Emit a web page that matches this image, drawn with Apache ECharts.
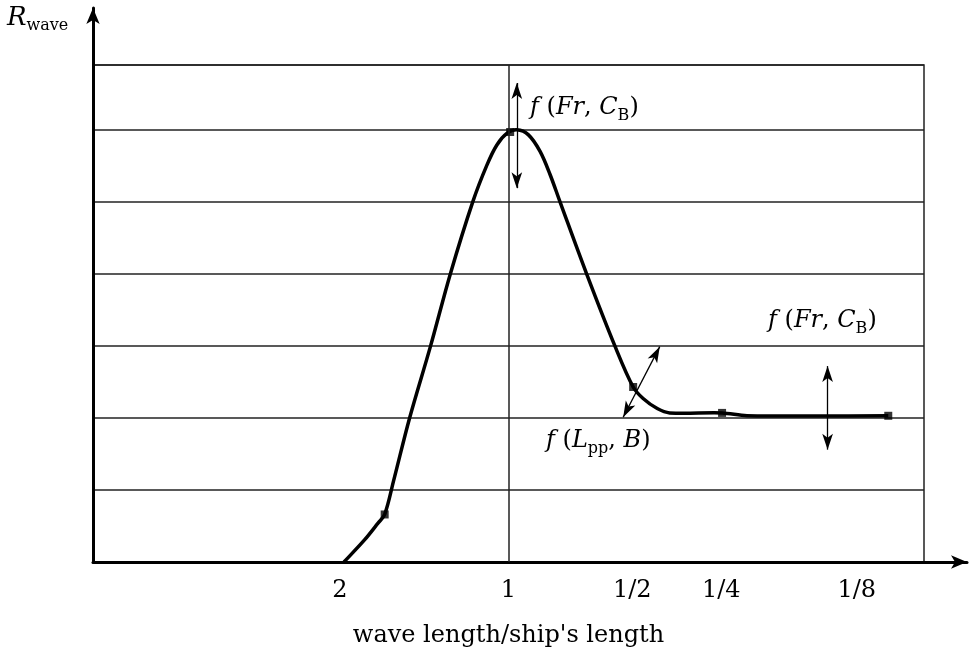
<!DOCTYPE html>
<html>
<head>
<meta charset="utf-8">
<script src="https://cdn.jsdelivr.net/npm/echarts@6/dist/echarts.min.js"></script>
<style>
  html, body { margin: 0; padding: 0; background: #fff; }
  #chart { width: 969px; height: 648px; }
</style>
</head>
<body>
<div id="chart"></div>
<script>
// x: schematic units across the plot (0..10), y: grid rows (0..6.9)
const tickPos = [2.97, 5.0, 6.49, 7.56, 9.19];
const tickText = ['2', '1', '1/2', '1/4', '1/8'];

const curveX = [3.02, 3.27, 3.43, 3.51, 3.62, 3.81, 4.06, 4.30, 4.57, 4.74, 4.86, 4.98, 5.10, 5.24, 5.38, 5.50, 5.62, 5.94, 6.28, 6.50, 6.62, 6.79, 6.94, 7.57, 7.87, 9.57];
const curveY = [0.00, 0.31, 0.54, 0.66, 1.14, 2.00, 2.99, 4.00, 5.00, 5.51, 5.79, 5.95, 6.00, 5.93, 5.70, 5.38, 5.00, 4.00, 3.00, 2.43, 2.27, 2.13, 2.07, 2.07, 2.03, 2.03];

const markX = [3.51, 5.02, 6.50, 7.57, 9.57];
const markY = [0.66, 5.97, 2.43, 2.07, 2.03];

// double-headed arrows: [x1, y1, x2, y2]
const arrows = [
  [5.10, 6.65, 5.10, 5.19],
  [6.82, 2.99, 6.38, 2.01],
  [8.84, 2.72, 8.84, 1.56]
];

const font = 'DejaVu Serif';
const chart = echarts.init(document.getElementById('chart'));

const curve = curveX.map((x, i) => [x, curveY[i]]);
const marks = markX.map((x, i) => [x, markY[i]]);

// smooth path through the points (tangent from neighbours, handle length = 1/3 of segment)
function smoothPath(pts) {
  const n = pts.length;
  const tan = pts.map((p, i) => {
    const a = pts[Math.max(i - 1, 0)], b = pts[Math.min(i + 1, n - 1)];
    const dx = b[0] - a[0], dy = b[1] - a[1];
    const l = Math.hypot(dx, dy) || 1;
    return [dx / l, dy / l];
  });
  let d = 'M' + pts[0][0] + ',' + pts[0][1];
  for (let i = 0; i < n - 1; i++) {
    const p = pts[i], q = pts[i + 1];
    const h = Math.hypot(q[0] - p[0], q[1] - p[1]) / 3;
    d += 'C' + (p[0] + tan[i][0] * h) + ',' + (p[1] + tan[i][1] * h) + ','
      + (q[0] - tan[i + 1][0] * h) + ',' + (q[1] - tan[i + 1][1] * h) + ','
      + q[0] + ',' + q[1];
  }
  return d;
}

const fRich = {
  i: { fontFamily: font, fontStyle: 'italic', fontSize: 24, color: '#000', lineHeight: 32 },
  n: { fontFamily: font, fontSize: 24, color: '#000', lineHeight: 32 },
  s: { fontFamily: font, fontSize: 16, color: '#000', lineHeight: 24, verticalAlign: 'bottom' }
};

const option = {
  animation: false,
  backgroundColor: '#fff',
  grid: [
    { left: 93, right: 2, top: 8, bottom: 86, outerBoundsMode: 'none', containLabel: false },
    { left: 93, right: 45, top: 65, bottom: 86, outerBoundsMode: 'none', containLabel: false,
      show: true, borderColor: '#222', borderWidth: 1.5 }
  ],
  xAxis: [
    {
      gridIndex: 0, type: 'value', min: 0, max: 1,
      axisLine: { lineStyle: { color: '#000', width: 3 }, symbol: ['none', 'arrow'], symbolSize: [10, 16] },
      axisTick: { show: false }, axisLabel: { show: false }, splitLine: { show: false }
    },
    {
      gridIndex: 1, type: 'value', min: 0, max: 10,
      axisLine: { show: false }, axisTick: { show: false }, splitLine: { show: false },
      axisLabel: {
        customValues: tickPos,
        formatter: v => tickText[tickPos.indexOf(v)] || '',
        fontFamily: font, fontSize: 24, color: '#000', margin: 17
      },
      name: "wave length/ship's length",
      nameLocation: 'middle', nameGap: 62,
      nameTextStyle: { fontFamily: font, fontSize: 24, color: '#000' }
    }
  ],
  yAxis: [
    {
      gridIndex: 0, type: 'value', min: 0, max: 1,
      axisLine: { lineStyle: { color: '#000', width: 3 }, symbol: ['none', 'arrow'], symbolSize: [10, 16] },
      axisTick: { show: false }, axisLabel: { show: false }, splitLine: { show: false }
    },
    {
      gridIndex: 1, type: 'value', min: 0, max: 6.9, interval: 1,
      axisLine: { show: false }, axisTick: { show: false }, axisLabel: { show: false },
      splitLine: { lineStyle: { color: '#222', width: 1.5 } }
    }
  ],
  graphic: [
    {
      type: 'text', left: 7, top: 5,
      style: {
        text: '{r|R}{w|wave}',
        rich: {
          r: { fontFamily: font, fontStyle: 'italic', fontSize: 26, color: '#000', lineHeight: 32 },
          w: { fontFamily: font, fontSize: 16, color: '#000', lineHeight: 24, verticalAlign: 'bottom' }
        }
      }
    },
    { type: 'text', left: 530, top: 96, style: { text: '{i|f}{n| (}{i|Fr}{n|, }{i|C}{s|B}{n|)}', rich: fRich } },
    { type: 'text', left: 768, top: 309, style: { text: '{i|f}{n| (}{i|Fr}{n|, }{i|C}{s|B}{n|)}', rich: fRich } },
    { type: 'text', left: 546, top: 429, style: { text: '{i|f}{n| (}{i|L}{s|pp}{n|, }{i|B}{n|)}', rich: fRich } }
  ],
  series: [
    {
      type: 'custom', xAxisIndex: 1, yAxisIndex: 1,
      data: [curve[0]],
      renderItem: (params, api) => ({
        type: 'path',
        shape: { pathData: smoothPath(curve.map(p => api.coord(p))) },
        style: { fill: 'none', stroke: '#000', lineWidth: 3.5, lineJoin: 'round' }
      }),
      z: 3
    },
    {
      type: 'scatter', xAxisIndex: 1, yAxisIndex: 1,
      data: marks, symbol: 'rect', symbolSize: 8,
      itemStyle: { color: '#000' }, z: 4
    },
    {
      type: 'line', xAxisIndex: 1, yAxisIndex: 1, data: [],
      markLine: {
        silent: true, symbol: 'none', label: { show: false },
        lineStyle: { color: '#222', width: 1.5, type: 'solid' },
        data: [{ xAxis: tickPos[1] }]
      }
    },
    {
      type: 'line', xAxisIndex: 1, yAxisIndex: 1, data: [],
      markLine: {
        silent: true, symbol: ['arrow', 'arrow'], symbolSize: [8, 16],
        label: { show: false },
        lineStyle: { color: '#000', width: 1.3, type: 'solid' },
        data: arrows.map(a => [{ coord: [a[0], a[1]] }, { coord: [a[2], a[3]] }])
      }
    }
  ]
};

chart.setOption(option);
</script>
</body>
</html>
